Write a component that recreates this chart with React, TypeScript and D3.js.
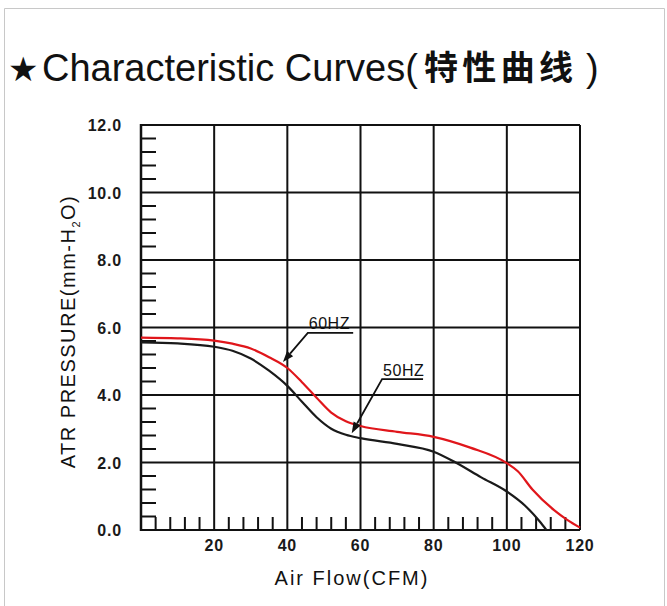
import React from "react";
import * as d3 from "d3";

const W = 667;
const H = 606;

// Data
const flow60 = [0, 10, 20, 25, 30, 35, 40, 44, 48, 52, 56, 60, 70, 80, 90, 100, 103, 107, 113, 116.5, 120];
const pres60 = [5.7, 5.68, 5.61, 5.52, 5.38, 5.12, 4.8, 4.38, 3.92, 3.48, 3.22, 3.08, 2.91, 2.76, 2.44, 1.98, 1.74, 1.2, 0.58, 0.3, 0.07];
const flow50 = [0, 10, 20, 25, 30, 35, 40, 44, 48, 52, 56, 60, 70, 80, 86, 93, 100, 105, 109, 110.8];
const pres50 = [5.56, 5.53, 5.43, 5.31, 5.08, 4.72, 4.27, 3.8, 3.34, 3.0, 2.82, 2.72, 2.55, 2.32, 2.0, 1.56, 1.14, 0.72, 0.25, 0.0];

const xTicks = [20, 40, 60, 80, 100, 120];
const yTicks = [0, 2, 4, 6, 8, 10, 12];
const yTickLabels = ["0.0", "2.0", "4.0", "6.0", "8.0", "10.0", "12.0"];

// annotation: label, underline start/end (flow), underline pressure, arrow tip (flow, pressure)
const annLabels = ["60HZ", "50HZ"];
const annStartX = [45.6, 65.9];
const annEndX = [58.0, 77.1];
const annY = [5.84, 4.47];
const annTipX = [38.8, 57.6];
const annTipY = [4.98, 2.87];

const RED = "#e0161b";

export default function App() {
  const x = d3.scaleLinear().domain([0, 120]).range([141, 580]);
  const y = d3.scaleLinear().domain([0, 12]).range([530, 125]);

  const line = d3
    .line<[number, number]>()
    .x((d) => x(d[0]))
    .y((d) => y(d[1]))
    .curve(d3.curveMonotoneX);

  const d60 = line(flow60.map((f, i) => [f, pres60[i]] as [number, number])) || "";
  const d50 = line(flow50.map((f, i) => [f, pres50[i]] as [number, number])) || "";

  const xMinor = d3.range(0, 120, 4).filter((v) => v % 20 !== 0);
  const yMinor = d3.range(0, 12, 0.4).map((v) => +v.toFixed(1)).filter((v) => Math.abs(v / 2 - Math.round(v / 2)) > 1e-6);

  const sans = "'Liberation Sans', Arial, Helvetica, sans-serif";

  return (
    <svg width={W} height={H} style={{ position: "absolute", left: 0, top: 0, background: "#fff" }}>
      <rect x={0} y={0} width={W} height={H} fill="#fff" />
      {/* outer frame */}
      <path d={`M4.5,${H} V8.5 H664.5 V${H}`} fill="none" stroke="#c8c8c8" strokeWidth={1} />

      {/* title */}
      <text x={8} y={81} fontFamily="'DejaVu Sans', sans-serif" fontSize={34} fill="#111">
        ★
      </text>
      <text x={42} y={81} fontFamily={sans} fontSize={38} fill="#111">
        Characteristic Curves(
      </text>
      <text x={424} y={80} fontFamily="'Noto Sans CJK SC', sans-serif" fontWeight={700} fontSize={34} fill="#111" textLength={149} lengthAdjust="spacing">
        特性曲线
      </text>
      <text x={586} y={81} fontFamily={sans} fontSize={38} fill="#111">
        )
      </text>

      {/* grid */}
      <g stroke="#111" strokeWidth={2}>
        {yTicks.map((t) => (
          <line key={"gy" + t} x1={x(0)} x2={x(120)} y1={y(t)} y2={y(t)} />
        ))}
        {[0, ...xTicks].map((t) => (
          <line key={"gx" + t} x1={x(t)} x2={x(t)} y1={y(0)} y2={y(12)} />
        ))}
      </g>
      <line x1={x(0)} x2={x(0)} y1={y(0) + 1} y2={y(12) - 1} stroke="#111" strokeWidth={2.5} />
      {/* minor ticks */}
      <g stroke="#111" strokeWidth={2}>
        {xMinor.map((t) => (
          <line key={"mx" + t} x1={x(t)} x2={x(t)} y1={y(0)} y2={y(0) - 13} />
        ))}
        {yMinor.map((t) => (
          <line key={"my" + t} x1={x(0)} x2={x(0) + 15} y1={y(t)} y2={y(t)} />
        ))}
      </g>

      {/* tick labels */}
      <g fontFamily={sans} fontWeight={700} fontSize={16} fill="#1a1a1a">
        {yTicks.map((t, i) => (
          <text key={"ly" + t} x={122} y={y(t) + 6} textAnchor="end" letterSpacing={0.8}>
            {yTickLabels[i]}
          </text>
        ))}
        {xTicks.map((t) => (
          <text key={"lx" + t} x={x(t)} y={551} textAnchor="middle" letterSpacing={0.8}>
            {t}
          </text>
        ))}
      </g>

      {/* axis titles */}
      <text
        transform={`translate(75,${(183 + 480) / 2}) rotate(-90)`}
        textAnchor="middle"
        fontFamily={sans}
        fontSize={20}
        fill="#111"
        letterSpacing={1.5}
      >
        ATR PRESSURE(mm-H<tspan fontSize={11} dy={5}>2</tspan><tspan dy={-5}>O)</tspan>
      </text>
      <text x={352} y={585} textAnchor="middle" fontFamily={sans} fontSize={20} fill="#111" letterSpacing={2}>
        Air Flow(CFM)
      </text>

      {/* curves */}
      <path d={d50} fill="none" stroke="#1a1a1a" strokeWidth={2.2} />
      <path d={d60} fill="none" stroke={RED} strokeWidth={2.2} />

      {/* annotations */}
      {annLabels.map((lab, i) => {
        const sx = x(annStartX[i]);
        const sy = y(annY[i]);
        const ex = x(annEndX[i]);
        const tx = x(annTipX[i]);
        const ty = y(annTipY[i]);
        const ang = Math.atan2(ty - sy, tx - sx);
        const L = 11;
        const Wd = 4;
        const bx = tx - L * Math.cos(ang);
        const by = ty - L * Math.sin(ang);
        const px = -Math.sin(ang) * Wd;
        const py = Math.cos(ang) * Wd;
        return (
          <g key={lab}>
            <text x={sx + 1} y={sy - 3.5} fontFamily={sans} fontSize={16} fill="#111" letterSpacing={0.5}>
              {lab}
            </text>
            <polyline points={`${ex},${sy} ${sx},${sy} ${bx},${by}`} fill="none" stroke="#111" strokeWidth={1.8} />
            <polygon points={`${tx},${ty} ${bx + px},${by + py} ${bx - px},${by - py}`} fill="#111" />
          </g>
        );
      })}
    </svg>
  );
}
